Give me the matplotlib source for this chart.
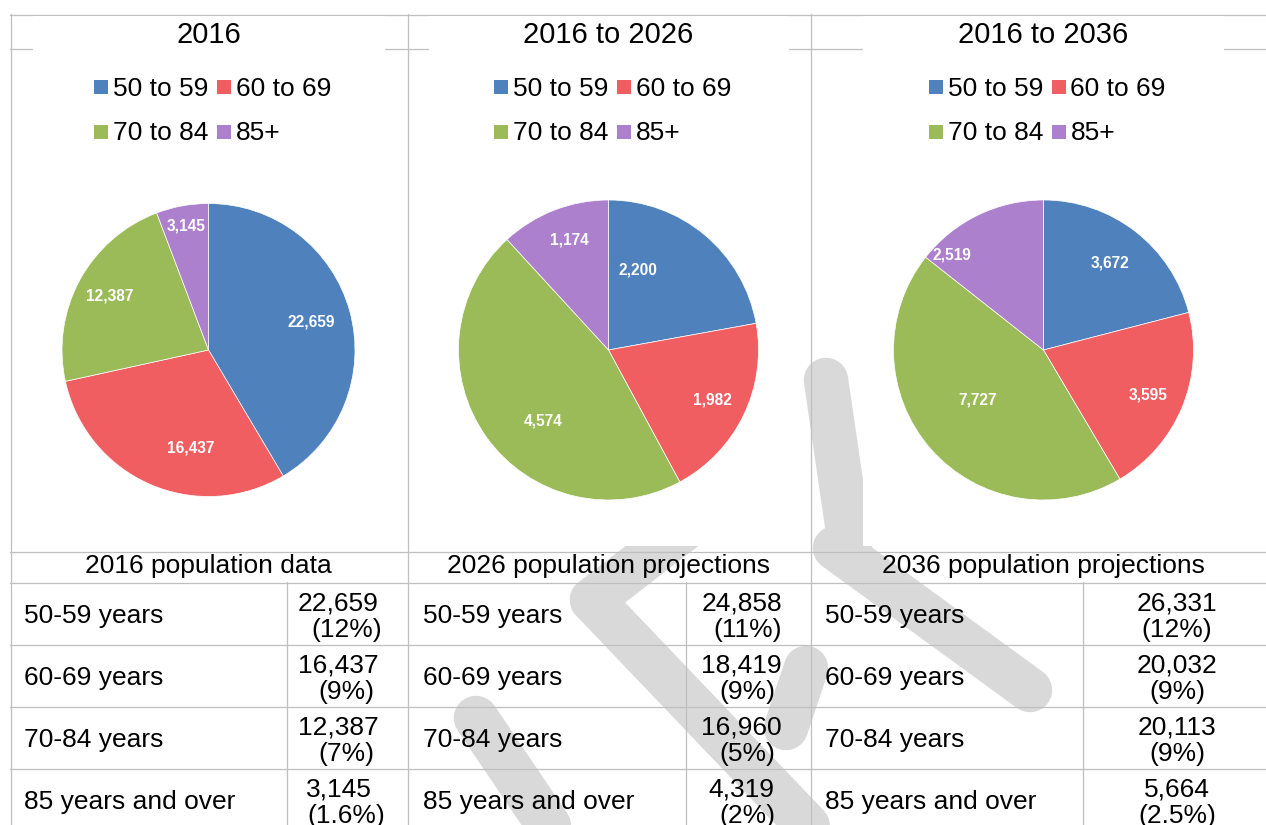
import numpy as np
import matplotlib
matplotlib.use("Agg")
import matplotlib.pyplot as plt
from matplotlib.patches import Rectangle

plt.rcParams['font.family'] = ['Liberation Sans', 'DejaVu Sans']

# ---------------- data ----------------
age_groups = ["50 to 59", "60 to 69", "70 to 84", "85+"]
chart_titles = ["2016", "2016 to 2026", "2016 to 2036"]
pie_2016 = [22659, 16437, 12387, 3145]
pie_2016_2026 = [2200, 1982, 4574, 1174]
pie_2016_2036 = [3672, 3595, 7727, 2519]

table_headers = ["2016 population data", "2026 population projections",
                 "2036 population projections"]
row_labels = ["50-59 years", "60-69 years", "70-84 years", "85 years and over"]
pop_2016 = [22659, 16437, 12387, 3145]
pct_2016 = ["12", "9", "7", "1.6"]
pop_2026 = [24858, 18419, 16960, 4319]
pct_2026 = ["11", "9", "5", "2"]
pop_2036 = [26331, 20032, 20113, 5664]
pct_2036 = ["12", "9", "9", "2.5"]

# ---------------- style ----------------
colors = ["#4F81BD", "#F05E62", "#9BBB59", "#AC80CD"]
grid_c = "#BFBFBF"
wm_c = "#D9D9D9"
W, H, DPI = 1266, 825, 100
FS = 19

fig = plt.figure(figsize=(W / DPI, H / DPI), dpi=DPI)
bg = fig.add_axes([0, 0, 1, 1])
bg.set_xlim(0, W)
bg.set_ylim(H, 0)
bg.axis('off')

# ---------------- watermark (behind charts) ----------------
wm_strokes = [
    [(592, 600), (715, 505)],
    [(592, 600), (845, 865)],
    [(826, 380), (850, 545)],
    [(835, 548), (1030, 690)],
    [(476, 718), (572, 860)],
    [(806, 668), (786, 728)],
]
for s in wm_strokes:
    xs, ys = zip(*s)
    bg.plot(xs, ys, color=wm_c, lw=32, solid_capstyle='round', zorder=1)

# ---------------- grid lines ----------------
lw = 0.9
for x in [10.5, 407.5, 810.5]:
    bg.plot([x, x], [14, H], color=grid_c, lw=lw, zorder=2)
for x in [286.5, 685.5, 1082.5]:
    bg.plot([x, x], [582, H], color=grid_c, lw=lw, zorder=2)
for y in [14.5, 48.5, 551.5, 582.5, 644.5, 706.5, 768.5]:
    bg.plot([10, W], [y, y], color=grid_c, lw=lw, zorder=2)

# chart areas (white, covering the watermark and the title row line)
chart_x = [(33, 385), (429, 789), (863, 1224)]
for x0, x1 in chart_x:
    bg.add_patch(Rectangle((x0, 16), x1 - x0, 530, facecolor='white',
                           edgecolor='none', zorder=3))

# ---------------- charts ----------------
centers = [208.5, 608.5, 1043.5]
pie_cy = 350
radii = [146.5, 150, 150]
pies = [pie_2016, pie_2016_2026, pie_2016_2036]
label_frac = [[0.73, 0.68, 0.77, 0.86],
              [0.57, 0.77, 0.64, 0.78],
              [0.73, 0.76, 0.55, 0.88]]
label_dang = [[0, -13, 0, 0],
              [-20, 0, -12, 2],
              [0, 1, 4, -18]]

for i, vals in enumerate(pies):
    cx, r = centers[i], radii[i]
    ax = fig.add_axes([(cx - r) / W, 1 - (pie_cy + r) / H, 2 * r / W, 2 * r / H])
    wedges, _ = ax.pie(vals, colors=colors, startangle=90, counterclock=False,
                       wedgeprops=dict(edgecolor='white', linewidth=0.5))
    ax.set_xlim(-1, 1)
    ax.set_ylim(-1, 1)
    ax.set_aspect('auto')
    ax.axis('off')
    ax.set_zorder(4)
    for j, w in enumerate(wedges):
        mid = 0.5 * (w.theta1 + w.theta2)  # ccw degrees from +x
        a = np.deg2rad(mid - label_dang[i][j])
        f = label_frac[i][j]
        ax.text(f * np.cos(a), f * np.sin(a), f"{vals[j]:,}", color='white',
                fontsize=11.2, fontweight='bold', ha='center', va='center')

    # title
    bg.text(cx, 42.7, chart_titles[i], fontsize=21, ha='center',
            va='baseline', zorder=5)
    # legend
    lx = cx - 114.5
    col_off = [0, 122.5]
    rows_y = [95.7, 140.5]
    for k, lab in enumerate(age_groups):
        rr, cc = divmod(k, 2)
        x = lx + col_off[cc]
        yb = rows_y[rr]
        bg.add_patch(Rectangle((x, yb - 16), 14, 14, facecolor=colors[k],
                               edgecolor='none', zorder=5))
        bg.text(x + 19, yb, lab, fontsize=FS, ha='left', va='baseline',
                zorder=5)

# ---------------- table ----------------
header_cx = [208.5, 608.5, 1043.5]
for i, t in enumerate(table_headers):
    bg.text(header_cx[i], 572.5, t, fontsize=FS, ha='center',
            va='baseline', zorder=5)

label_x = [24, 423, 825]
val_cx = [346.5, 747.5, 1177]
first_shift = [8, 6, 0]
pops = [pop_2016, pop_2026, pop_2036]
pcts = [pct_2016, pct_2026, pct_2036]
for i in range(3):
    for r_, lab in enumerate(row_labels):
        y0 = 582 + 62 * r_
        bg.text(label_x[i], y0 + 41, lab, fontsize=FS, ha='left',
                va='baseline', zorder=5)
        bg.text(val_cx[i] - first_shift[i], y0 + 28, f"{pops[i][r_]:,}",
                fontsize=FS, ha='center', va='baseline', zorder=5)
        bg.text(val_cx[i], y0 + 55, f"({pcts[i][r_]}%)", fontsize=FS,
                ha='center', va='baseline', zorder=5)

fig.savefig("out.png", dpi=DPI)
